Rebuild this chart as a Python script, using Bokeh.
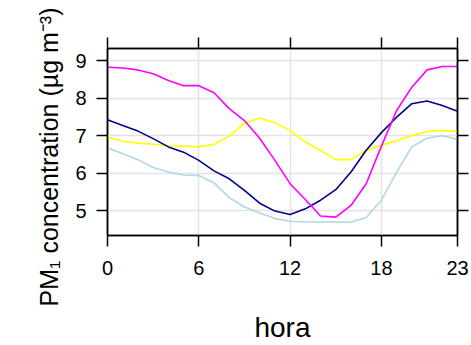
from bokeh.plotting import figure
from bokeh.models import LinearAxis, FixedTicker, Range1d, Title
from bokeh.embed import file_html
from bokeh.resources import INLINE

# Hourly mean PM1 concentration (µg m-3) for four groups
hours = list(range(24))
magenta_vals = [8.82, 8.80, 8.75, 8.65, 8.47, 8.33, 8.33, 8.14, 7.72, 7.40,
                6.93, 6.34, 5.72, 5.30, 4.86, 4.83, 5.14, 5.72, 6.72, 7.67,
                8.29, 8.75, 8.84, 8.84]
navy_vals = [7.42, 7.27, 7.12, 6.92, 6.70, 6.56, 6.34, 6.06, 5.85, 5.54,
             5.20, 4.99, 4.90, 5.05, 5.28, 5.56, 6.03, 6.61, 7.08, 7.49,
             7.85, 7.92, 7.80, 7.65]
yellow_vals = [6.96, 6.85, 6.80, 6.77, 6.73, 6.72, 6.70, 6.77, 6.98, 7.33,
               7.47, 7.34, 7.14, 6.83, 6.61, 6.36, 6.36, 6.61, 6.74, 6.87,
               7.00, 7.11, 7.14, 7.11]
lightblue_vals = [6.68, 6.52, 6.36, 6.15, 6.03, 5.95, 5.94, 5.74, 5.35, 5.10,
                  4.94, 4.79, 4.72, 4.70, 4.70, 4.70, 4.70, 4.82, 5.28, 6.03,
                  6.70, 6.93, 7.00, 6.90]

x_ticks = [0, 6, 12, 18, 23]
y_ticks = [5, 6, 7, 8, 9]

x_title = "hora"
y_title = "PM\u2081 concentration (\u00b5g m\u207b\u00b3)"

FONT = "Liberation Sans"

p = figure(width=471, height=345, output_backend="svg", toolbar_location=None,
           x_range=Range1d(0, 23), y_range=Range1d(4.34, 9.32),
           x_axis_location=None, y_axis_location=None,
           min_border_left=107, min_border_right=14,
           min_border_top=48, min_border_bottom=109)

p.background_fill_color = "white"
p.border_fill_color = "white"
p.outline_line_color = "black"
p.outline_line_width = 1.5

def style_axis(ax, ticks, show_labels, standoff=10):
    ax.ticker = FixedTicker(ticks=ticks)
    ax.axis_line_color = "black"
    ax.axis_line_width = 1.5
    ax.major_tick_line_color = "black"
    ax.major_tick_line_width = 1.5
    ax.major_tick_out = 11
    ax.major_tick_in = 0
    ax.minor_tick_line_color = None
    ax.major_label_text_font = FONT
    ax.major_label_text_color = "black"
    ax.major_label_text_font_size = "20px"
    if show_labels:
        ax.major_label_standoff = standoff
    else:
        # tick marks only on the top and right edges
        ax.major_label_overrides = {t: "" for t in ticks}
        ax.major_label_standoff = 0

bottom = LinearAxis(axis_label=x_title)
left = LinearAxis()
top = LinearAxis()
right = LinearAxis()
p.add_layout(bottom, "below")
p.add_layout(left, "left")
p.add_layout(top, "above")
p.add_layout(right, "right")

style_axis(bottom, x_ticks, True, standoff=14)
style_axis(top, x_ticks, False)
style_axis(left, y_ticks, True, standoff=10)
style_axis(right, y_ticks, False)

bottom.axis_label_text_font = FONT
bottom.axis_label_text_font_size = "28px"
bottom.axis_label_text_font_style = "normal"
bottom.axis_label_text_color = "black"
bottom.axis_label_standoff = 34

# vertical title in its own side panel, started just below the frame bottom
p.add_layout(Title(text=y_title, align="left", offset=-71, standoff=20,
                   text_font=FONT, text_font_size="25px",
                   text_font_style="normal", text_color="black"), "left")

p.xgrid.ticker = FixedTicker(ticks=x_ticks)
p.ygrid.ticker = FixedTicker(ticks=y_ticks)
for g in (p.xgrid, p.ygrid):
    g.grid_line_color = "#e3e3e3"
    g.grid_line_width = 1.5

series = [(yellow_vals, "#FFFF00"), (lightblue_vals, "#ADD8E6"),
          (navy_vals, "#00008B"), (magenta_vals, "#FF00FF")]
for vals, col in series:
    p.line(hours, vals, line_color=col, line_width=1.6)

open("out.html", "w").write(file_html(p, INLINE))
